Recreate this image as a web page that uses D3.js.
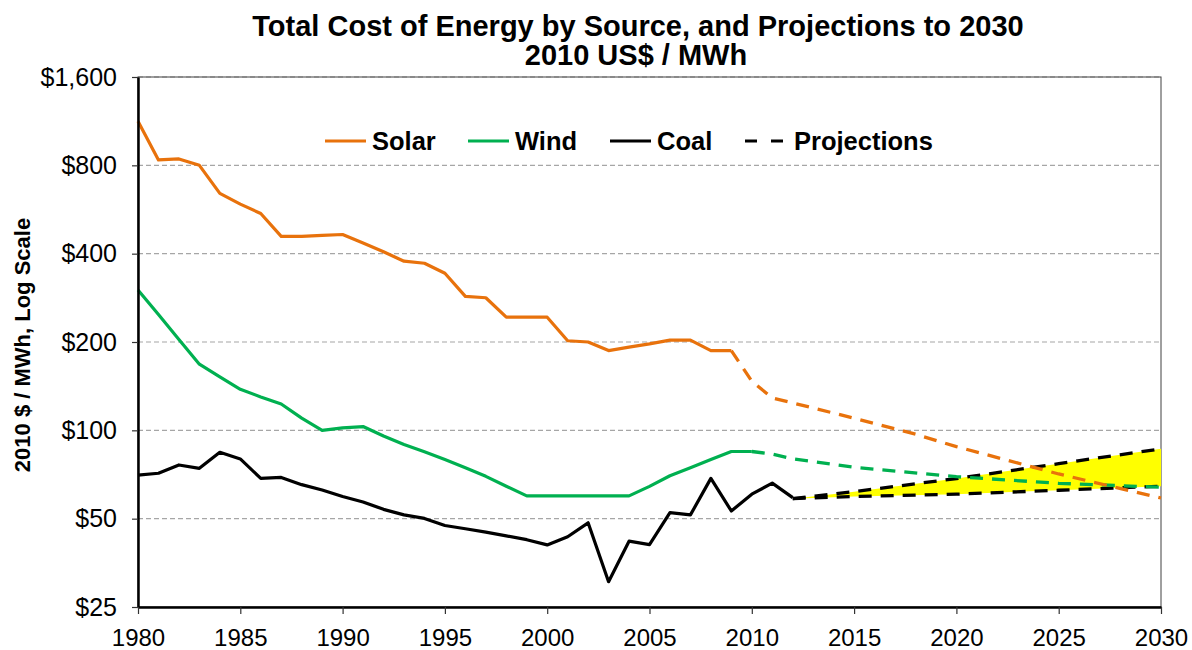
<!DOCTYPE html>
<html>
<head>
<meta charset="utf-8">
<script src="https://cdn.jsdelivr.net/npm/d3@7"></script>
<style>
  body { margin: 0; background: #fff; }
  text { font-family: "Liberation Sans", Arial, sans-serif; }
</style>
</head>
<body>
<div id="container"></div>
<script>
/* CONSTANTS AND GLOBALS */
const width = 1192,
  height = 650,
  margin = { top: 77, bottom: 43, left: 138, right: 31 };

// historical series, one value per year
const histYears = d3.range(1980, 2013);
const solarHist = [1130, 835, 841, 800, 642, 590, 548, 458, 458, 462, 465, 435, 406, 377, 371, 343,
  286, 283, 243, 243, 243, 202, 200, 187, 192, 197, 203, 203, 187, 187];
const windHist = [301, 248, 204, 168, 152, 138, 130, 123, 110, 100, 102, 103, 95.6, 89.5, 84.5, 79.5,
  74.5, 69.7, 64.5, 59.8, 59.8, 59.8, 59.8, 59.8, 59.8, 64.4, 70, 74.5, 79.5, 84.7, 84.7];
const coalHist = [70.4, 71.4, 76.2, 74.2, 84.2, 79.9, 68.6, 69.1, 65.3, 62.6, 59.5, 57.0, 53.8, 51.5, 50.1, 47.4,
  46.2, 45.0, 43.7, 42.4, 40.7, 43.4, 48.4, 30.5, 41.9, 40.8, 52.4, 51.5, 68.6, 53.1, 60.6, 66.1, 59.0];

// projections
const solarProjYears = [2009, 2010, 2011, 2012, 2015, 2018, 2020, 2025, 2030];
const solarProj = [187, 147, 129, 124, 110, 97, 88, 71, 58.8];
const windProjYears = [2010, 2011, 2012, 2015, 2020, 2025, 2030];
const windProj = [84.7, 83, 80, 74.8, 69.5, 66, 64];
const coalProjYears = [2012, 2015, 2020, 2025, 2030];
const coalHigh = [58.5, 61.8, 68.5, 77, 86.5];
const coalLow = [58.5, 59.5, 60.6, 62.5, 64.5];

const yTicks = [25, 50, 100, 200, 400, 800, 1600];
const xTicks = d3.range(1980, 2031, 5);

const colors = { solar: "#E8720C", wind: "#00B050", coal: "#000000" };

const pairs = (xs, ys) => ys.map((v, i) => ({ year: xs[i], value: v }));

/* SCALES */
const xScale = d3.scaleLinear()
  .domain([1980, 2030])
  .range([margin.left, width - margin.right]);

const yScale = d3.scaleLog()
  .domain([25, 1600])
  .range([height - margin.bottom, margin.top]);

const svg = d3.select("#container")
  .append("svg")
  .attr("width", width)
  .attr("height", height);

// gridlines
svg.append("g")
  .selectAll("line")
  .data(yTicks.slice(1))
  .join("line")
  .attr("x1", margin.left)
  .attr("x2", width - margin.right)
  .attr("y1", d => yScale(d))
  .attr("y2", d => yScale(d))
  .attr("stroke", "#a6a6a6")
  .attr("stroke-width", 1.2)
  .attr("stroke-dasharray", "5,3");

// plot border (top/right)
svg.append("rect")
  .attr("x", margin.left)
  .attr("y", margin.top)
  .attr("width", width - margin.right - margin.left)
  .attr("height", height - margin.bottom - margin.top)
  .attr("fill", "none")
  .attr("stroke", "#404040")
  .attr("stroke-width", 1);

const line = d3.line()
  .x(d => xScale(d.year))
  .y(d => yScale(d.value));

// yellow band between coal projections
const band = d3.area()
  .x(d => xScale(d.year))
  .y0(d => yScale(d.low))
  .y1(d => yScale(d.high));

svg.append("path")
  .datum(coalProjYears.map((yr, i) => ({ year: yr, low: coalLow[i], high: coalHigh[i] })))
  .attr("d", band)
  .attr("fill", "#FFFF00");

// historical lines
const hist = [
  { data: pairs(histYears, solarHist), color: colors.solar },
  { data: pairs(histYears, windHist), color: colors.wind },
  { data: pairs(histYears, coalHist), color: colors.coal }
];
svg.append("g")
  .selectAll("path")
  .data(hist)
  .join("path")
  .attr("d", d => line(d.data))
  .attr("fill", "none")
  .attr("stroke", d => d.color)
  .attr("stroke-width", 3.2)
  .attr("stroke-linejoin", "round");

// projection lines
const proj = [
  { data: pairs(coalProjYears, coalHigh), color: colors.coal },
  { data: pairs(coalProjYears, coalLow), color: colors.coal },
  { data: pairs(windProjYears, windProj), color: colors.wind },
  { data: pairs(solarProjYears, solarProj), color: colors.solar }
];
svg.append("g")
  .selectAll("path")
  .data(proj)
  .join("path")
  .attr("d", d => line(d.data))
  .attr("fill", "none")
  .attr("stroke", d => d.color)
  .attr("stroke-width", 3.3)
  .attr("stroke-dasharray", "13,9");

/* AXES */
const yAxis = svg.append("g")
  .attr("transform", `translate(${margin.left},0)`)
  .call(d3.axisLeft(yScale)
    .tickValues(yTicks)
    .tickFormat(d3.format("$,"))
    .tickSizeInner(6)
    .tickSizeOuter(0)
    .tickPadding(15));

const xAxis = svg.append("g")
  .attr("transform", `translate(0,${height - margin.bottom})`)
  .call(d3.axisBottom(xScale)
    .tickValues(xTicks)
    .tickFormat(d3.format("d"))
    .tickSizeInner(7)
    .tickSizeOuter(0)
    .tickPadding(15));

[xAxis, yAxis].forEach(ax => {
  ax.select(".domain").attr("stroke", "#000").attr("stroke-width", 2.5);
  ax.selectAll(".tick line").attr("stroke", "#333").attr("stroke-width", 1.2);
  ax.selectAll(".tick text")
    .attr("fill", "#000")
    .style("font-family", "'Liberation Sans', Arial, sans-serif");
});
yAxis.selectAll(".tick text").style("font-size", "25px");
xAxis.selectAll(".tick text").style("font-size", "24px");

// y axis title
svg.append("text")
  .attr("transform", `translate(30,${(margin.top + height - margin.bottom) / 2 + 3}) rotate(-90)`)
  .attr("text-anchor", "middle")
  .style("font-size", "22px")
  .style("font-weight", "bold")
  .text("2010 $ / MWh, Log Scale");

/* TITLE */
svg.append("text")
  .attr("x", 638)
  .attr("y", 36)
  .attr("text-anchor", "middle")
  .style("font-size", "29px")
  .style("font-weight", "bold")
  .text("Total Cost of Energy by Source, and Projections to 2030");
svg.append("text")
  .attr("x", 636)
  .attr("y", 65)
  .attr("text-anchor", "middle")
  .style("font-size", "29px")
  .style("font-weight", "bold")
  .text("2010 US$ / MWh");

/* LEGEND */
const legendItems = [
  { label: "Solar", color: colors.solar, dash: null, x: 325 },
  { label: "Wind", color: colors.wind, dash: null, x: 468 },
  { label: "Coal", color: colors.coal, dash: null, x: 610 },
  { label: "Projections", color: colors.coal, dash: "12,14", x: 745 }
];
const legend = svg.append("g").attr("transform", "translate(0,141)");
const li = legend.selectAll("g")
  .data(legendItems)
  .join("g")
  .attr("transform", d => `translate(${d.x},0)`);
li.append("line")
  .attr("x1", 0)
  .attr("x2", d => d.dash ? 38 : 41)
  .attr("stroke", d => d.color)
  .attr("stroke-width", 3.2)
  .attr("stroke-dasharray", d => d.dash);
li.append("text")
  .attr("x", d => d.dash ? 49 : 47)
  .attr("dy", "0.36em")
  .style("font-size", "25.5px")
  .style("font-weight", "bold")
  .text(d => d.label);
</script>
</body>
</html>
